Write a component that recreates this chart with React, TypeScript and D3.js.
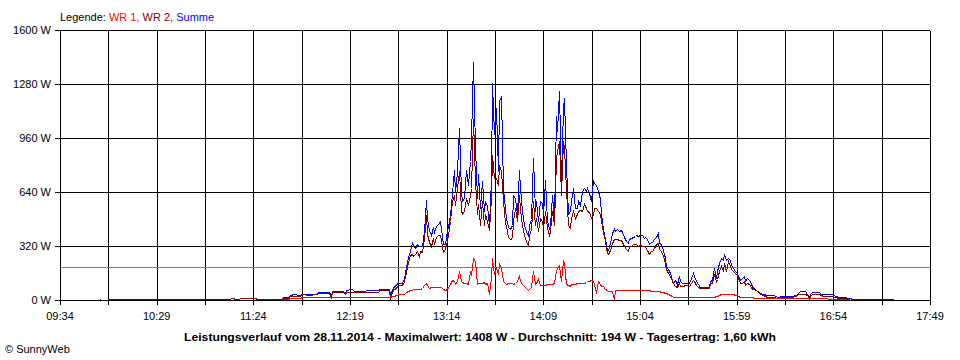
import React from "react";
import * as d3 from "d3";

// ---- data ----
const times: string[] = [
  "09:56","09:57","09:58","10:01","11:10","11:12","11:14","11:18","11:25","11:26",
  "11:40","11:41","11:44","11:45","11:47","11:50","11:52","11:55","12:00","12:01",
  "12:07","12:08","12:09","12:15","12:16","12:17","12:20","12:21","12:35","12:36",
  "12:41","12:42","12:43","12:44","12:45","12:46","12:47","12:48","12:49","12:50",
  "12:51","12:52","12:53","12:54","12:55","12:56","12:57","12:58","12:59","13:00",
  "13:01","13:02","13:03","13:04","13:05","13:06","13:07","13:08","13:09","13:10",
  "13:11","13:12","13:13","13:14","13:15","13:16","13:17","13:18","13:19","13:20",
  "13:21","13:22","13:23","13:24","13:25","13:26","13:27","13:28","13:29","13:30",
  "13:31","13:32","13:33","13:34","13:35","13:36","13:37","13:38","13:39","13:40",
  "13:41","13:42","13:43","13:44","13:45","13:46","13:47","13:48","13:49","13:50",
  "13:51","13:52","13:53","13:54","13:55","13:56","13:57","13:58","13:59","14:00",
  "14:01","14:02","14:03","14:04","14:05","14:06","14:07","14:08","14:09","14:10",
  "14:11","14:12","14:13","14:14","14:15","14:16","14:17","14:18","14:19","14:20",
  "14:21","14:22","14:23","14:24","14:25","14:26","14:27","14:28","14:29","14:30",
  "14:31","14:32","14:33","14:34","14:35","14:36","14:37","14:38","14:39","14:40",
  "14:41","14:42","14:43","14:44","14:45","14:46","14:47","14:48","14:49","14:50",
  "14:51","14:52","14:53","14:54","14:55","14:56","14:57","14:58","14:59","15:00",
  "15:01","15:02","15:03","15:04","15:05","15:06","15:07","15:08","15:09","15:10",
  "15:11","15:12","15:13","15:14","15:15","15:16","15:17","15:18","15:19","15:20",
  "15:21","15:22","15:23","15:24","15:25","15:26","15:27","15:28","15:30","15:32",
  "15:33","15:34","15:35","15:36","15:37","15:38","15:43","15:44","15:45","15:46",
  "15:47","15:48","15:49","15:50","15:51","15:52","15:53","15:54","15:55","15:56",
  "15:57","15:58","15:59","16:00","16:01","16:02","16:03","16:04","16:05","16:06",
  "16:07","16:08","16:09","16:10","16:12","16:14","16:16","16:20","16:22","16:25",
  "16:30","16:33","16:34","16:35","16:38","16:39","16:40","16:41","16:42","16:46",
  "16:47","16:48","16:53","16:55","16:57","17:01","17:02","17:03","17:05","17:28",
];

const wr1: (number | null)[] = [
  null,null,null,null,null,null,null,null,null,null,
  1,4,5,8,10,10,15,15,15,15,
  15,12,15,15,15,15,15,15,15,15,
  15,15,20,20,25,25,30,30,30,35,
  45,50,55,58,60,60,60,60,65,70,
  85,99,85,70,72,75,75,75,75,75,
  72,65,59,65,75,89,118,108,89,108,
  168,108,105,100,95,89,168,148,247,227,
  89,99,99,100,105,89,100,35,128,247,
  150,188,150,217,188,110,100,89,95,95,
  95,89,95,108,148,108,89,80,69,59,
  65,75,168,89,100,120,85,83,83,83,
  89,89,89,89,100,170,188,207,108,227,
  217,89,85,79,89,89,89,99,95,95,
  99,99,105,108,108,115,110,89,40,108,
  89,80,79,65,55,53,53,53,0,59,
  59,59,59,59,59,55,55,55,55,57,
  59,59,59,59,59,59,59,59,55,52,
  50,49,49,49,49,45,43,38,36,30,
  26,20,16,16,16,16,16,16,16,16,
  16,16,16,16,16,16,16,16,16,16,
  20,22,28,30,30,30,30,30,30,30,
  30,28,25,22,16,16,16,16,16,16,
  16,16,10,10,10,10,10,10,10,8,
  8,8,8,8,8,8,8,7,6,6,
  6,6,5,5,4,3,null,null,null,null,
];

const wr2: (number | null)[] = [
  null,null,null,null,null,6,2,7,7,2,
  2,8,8,20,22,20,30,28,30,38,
  38,15,43,43,30,45,47,43,45,55,
  55,5,45,65,70,80,85,85,90,110,
  165,220,265,270,260,267,286,250,286,280,
  365,500,390,340,316,365,330,370,380,385,
  350,279,300,355,385,464,583,622,560,662,
  760,533,504,523,600,560,622,662,1067,701,
  504,563,444,583,444,504,464,410,603,859,
  720,720,680,800,760,583,454,434,370,356,
  365,464,540,464,622,533,444,385,346,316,
  380,420,583,444,484,405,484,464,425,523,
  425,385,405,523,444,840,879,938,622,938,
  899,650,444,425,484,523,484,504,523,530,
  523,563,543,523,520,484,500,543,543,523,
  504,470,400,346,277,270,296,336,360,360,
  356,350,350,340,320,300,290,320,320,326,
  330,326,320,326,320,320,310,296,267,286,
  290,305,326,336,300,290,257,217,178,160,
  138,108,95,79,75,100,79,79,83,80,
  100,118,110,83,75,69,69,95,100,150,
  110,120,168,198,168,217,168,227,200,178,
  168,158,148,128,100,95,110,85,100,90,
  75,65,60,55,30,25,16,16,10,12,
  14,18,30,35,35,25,8,20,35,35,
  28,20,20,14,10,10,5,3,null,null,
];

const summe: (number | null)[] = [
  5,5,null,4,4,9,4,10,10,4,
  4,12,12,25,30,25,35,32,35,45,
  45,20,50,50,35,55,60,53,55,65,
  65,30,55,80,85,95,100,100,105,130,
  190,250,285,338,316,306,326,316,316,320,
  405,590,480,410,385,427,400,434,450,464,
  420,326,326,414,427,503,634,770,640,760,
  1017,640,583,604,770,681,820,958,1408,899,
  603,741,543,701,523,583,553,440,711,1284,
  978,1136,760,1175,1205,662,543,484,430,415,
  440,622,600,504,770,662,523,444,405,375,
  440,480,840,523,583,464,583,573,504,711,
  464,425,444,622,464,1086,1000,1234,701,1136,
  1195,800,504,523,583,662,543,543,583,560,
  642,662,642,662,630,583,701,691,681,642,
  593,514,420,356,296,296,336,395,419,405,
  415,405,410,400,370,345,336,360,365,370,
  375,385,375,385,380,365,370,356,330,340,
  340,356,370,395,336,326,296,247,198,178,
  158,118,99,118,89,138,108,99,99,99,
  128,158,140,110,89,75,75,110,118,188,
  130,168,217,247,237,267,237,247,237,207,
  188,168,158,138,118,128,138,108,128,118,
  99,75,69,59,40,30,24,24,16,20,
  20,24,40,49,49,30,10,30,43,43,
  35,30,30,20,16,16,10,8,5,5,
];

const xTickLabels: string[] = [
  "09:34","10:29","11:24","12:19","13:14","14:09","15:04","15:59","16:54","17:49",
];
const yTicks: number[] = [0, 320, 640, 960, 1280, 1600];
const average = 194;
const titleText =
  "Leistungsverlauf vom 28.11.2014 - Maximalwert: 1408 W - Durchschnitt: 194 W - Tagesertrag: 1,60 kWh";

// ---- chart ----
const W = 960;
const H = 360;
const FONT = "'Liberation Sans', Arial, sans-serif";

export default function App() {
  const parse = d3.timeParse("%H:%M");
  const t0 = parse(xTickLabels[0]) as Date;
  const t1 = parse(xTickLabels[xTickLabels.length - 1]) as Date;
  const x = d3.scaleTime().domain([t0, t1]).range([60, 930]);
  const y = d3.scaleLinear().domain([0, 1600]).range([300, 30]);

  const labelDates = xTickLabels.map((s) => parse(s) as Date);
  const gridDates: Date[] = [];
  labelDates.forEach((d, i) => {
    gridDates.push(d);
    if (i < labelDates.length - 1) {
      gridDates.push(new Date((d.getTime() + labelDates[i + 1].getTime()) / 2));
    }
  });

  const px = (v: number) => Math.round(v) + 0.5;

  const dates = times.map((s) => parse(s) as Date);
  const mkPath = (vals: (number | null)[]) =>
    d3
      .line<number>()
      .defined((i) => vals[i] !== null)
      .x((i) => Math.round(x(dates[i])) + 0.5)
      .y((i) => Math.floor(y(vals[i] as number)) + 0.5)(d3.range(times.length)) || "";

  const series = [
    { name: "Summe", vals: summe, color: "#0000ff" },
    { name: "WR 2", vals: wr2, color: "#800000" },
    { name: "WR 1", vals: wr1, color: "#ff0000" },
  ];

  return (
    <svg
      width={W}
      height={H}
      style={{ position: "absolute", left: 0, top: 0, background: "#fff" }}
      fontFamily={FONT}
      fontSize={11}
    >
      <rect x={0} y={0} width={W} height={H} fill="#fff" />
      {/* legend */}
      <text x={60} y={21} fill="#000">
        <tspan>Legende: </tspan>
        <tspan fill="#ff0000">WR 1, </tspan>
        <tspan fill="#800000">WR 2, </tspan>
        <tspan fill="#0000ff">Summe</tspan>
      </text>

      {/* horizontal grid + y ticks */}
      {yTicks.map((v) => (
        <g key={"y" + v}>
          <line
            x1={55}
            x2={930}
            y1={px(y(v))}
            y2={px(y(v))}
            stroke="#000"
            strokeWidth={1}
            shapeRendering="crispEdges"
          />
          <text x={51} y={y(v) + 4} textAnchor="end" fill="#000">
            {v + " W"}
          </text>
        </g>
      ))}

      {/* vertical grid + x ticks */}
      {gridDates.map((d, i) => (
        <line
          key={"gx" + i}
          x1={px(x(d))}
          x2={px(x(d))}
          y1={px(y(1600))}
          y2={305}
          stroke="#000"
          strokeWidth={1}
          shapeRendering="crispEdges"
        />
      ))}
      {labelDates.map((d, i) => (
        <text key={"lx" + i} x={x(d)} y={320} textAnchor="middle" fill="#000">
          {xTickLabels[i]}
        </text>
      ))}

      {/* average line */}
      <line
        x1={61}
        x2={930}
        y1={px(y(average))}
        y2={px(y(average))}
        stroke="#808080"
        strokeWidth={1}
        shapeRendering="crispEdges"
      />

      {/* series */}
      {series.map((s) => (
        <path
          key={s.name}
          d={mkPath(s.vals)}
          fill="none"
          stroke={s.color}
          strokeWidth={1}
          shapeRendering="crispEdges"
        />
      ))}

      {/* title */}
      <text
        x={480}
        y={341}
        textAnchor="middle"
        fontWeight="bold"
        fill="#000"
        textLength={592}
        lengthAdjust="spacingAndGlyphs"
      >
        {titleText}
      </text>
      <text x={5} y={353} fill="#000">
        © SunnyWeb
      </text>
    </svg>
  );
}
